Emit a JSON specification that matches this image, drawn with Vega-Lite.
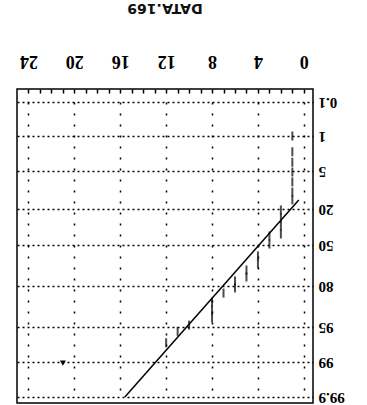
{
  "$schema": "https://vega.github.io/schema/vega-lite/v6.json",
  "width": 296,
  "height": 314,
  "autosize": {"type": "none"},
  "padding": {"left": 17, "top": 89, "right": 54, "bottom": 2},
  "background": "white",
  "title": {
    "text": "DATA.169",
    "angle": 180,
    "baseline": "top",
    "anchor": "middle",
    "offset": 22,
    "font": "DejaVu Sans",
    "fontSize": 14,
    "fontWeight": "bold",
    "color": "#111"
  },
  "config": {"view": {"stroke": "black", "strokeWidth": 1.5}},
  "datasets": {
    "pts": [
      {"x": 1, "p": 1.0}, {"x": 1, "p": 2.8}, {"x": 1, "p": 4.0}, {"x": 1, "p": 5.4},
      {"x": 1, "p": 9.3}, {"x": 1, "p": 13.3}, {"x": 1, "p": 16.4},
      {"x": 2, "p": 20.8}, {"x": 2, "p": 27.5}, {"x": 2, "p": 34.2}, {"x": 2, "p": 40.8},
      {"x": 3, "p": 42.5}, {"x": 3, "p": 49.2},
      {"x": 4, "p": 58.0}, {"x": 4, "p": 63.9},
      {"x": 5, "p": 68.3}, {"x": 5, "p": 73.4},
      {"x": 6, "p": 76.3}, {"x": 6, "p": 80.7},
      {"x": 7, "p": 82.6},
      {"x": 8, "p": 85.9}, {"x": 8, "p": 88.8}, {"x": 8, "p": 91.7},
      {"x": 10, "p": 94.3},
      {"x": 11, "p": 95.5},
      {"x": 12, "p": 96.8}
    ],
    "fit": [
      {"x": 0.44, "p": 16.4},
      {"x": 15.6, "p": 99.9}
    ],
    "outlier": [
      {"x": 21, "p": 99.03}
    ]
  },
  "encoding": {
    "y": {
      "field": "p",
      "type": "quantitative",
      "scale": {
        "domain": [0.1, 1, 5, 20, 50, 80, 95, 99, 99.9],
        "range": [13, 47, 82, 120, 156, 197, 238, 273, 308]
      },
      "axis": {
        "orient": "right",
        "values": [0.1, 1, 5, 20, 50, 80, 95, 99, 99.9],
        "format": ".1~f",
        "ticks": false,
        "domain": false,
        "grid": true,
        "gridColor": "black",
        "gridDash": [2, 3],
        "gridWidth": 1.5,
        "gridOpacity": 1,
        "labelAngle": 180,
        "labelAlign": "right",
        "labelBaseline": "middle",
        "labelPadding": 5,
        "labelOverlap": false,
        "labelFlush": false,
        "labelFont": "Liberation Sans Narrow",
        "labelFontSize": 15,
        "labelFontWeight": "bold",
        "labelColor": "black",
        "title": null
      }
    }
  },
  "layer": [
    {
      "data": {"name": "pts"},
      "mark": {"type": "tick", "orient": "vertical", "color": "black", "thickness": 2, "size": 9},
      "encoding": {
        "x": {
          "field": "x",
          "type": "quantitative",
          "scale": {"domain": [-0.8, 25], "reverse": true, "nice": false, "zero": false},
          "axis": {
            "orient": "top",
            "values": [0, 4, 8, 12, 16, 20, 24],
            "ticks": false,
            "domain": false,
            "grid": true,
            "gridColor": "black",
            "gridDash": [2, 9],
            "gridWidth": 1.5,
            "gridOpacity": 1,
            "labelAngle": 180,
            "labelAlign": "center",
            "labelBaseline": "middle",
            "labelPadding": 29,
            "labelOverlap": false,
            "labelFlush": false,
            "labelFont": "Liberation Sans Narrow",
            "labelFontSize": 18,
            "labelFontWeight": "bold",
            "labelColor": "black",
            "title": null
          }
        }
      }
    },
    {
      "data": {"name": "fit"},
      "mark": {"type": "line", "color": "black", "strokeWidth": 1.5},
      "encoding": {
        "x": {
          "field": "x",
          "type": "quantitative",
          "scale": {"domain": [-0.8, 25], "reverse": true, "nice": false, "zero": false},
          "axis": {
            "orient": "top",
            "values": [0, 1, 2, 3, 4, 5, 6, 7, 8, 9, 10, 11, 12, 13, 14, 15, 16, 17, 18, 19, 20, 21, 22, 23, 24],
            "labels": false,
            "domain": false,
            "grid": false,
            "ticks": true,
            "tickSize": -4,
            "tickColor": "black",
            "tickWidth": 1.5,
            "title": null
          }
        }
      }
    },
    {
      "data": {"name": "outlier"},
      "mark": {"type": "point", "shape": "triangle-down", "filled": true, "color": "black", "size": 35, "opacity": 1},
      "encoding": {
        "x": {"field": "x", "type": "quantitative", "scale": {"domain": [-0.8, 25], "reverse": true, "nice": false, "zero": false}, "axis": null}
      }
    }
  ],
  "resolve": {"axis": {"x": "independent"}}
}
